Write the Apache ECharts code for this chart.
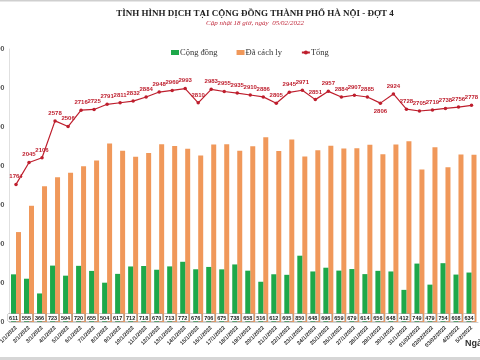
<!DOCTYPE html>
<html>
<head>
<meta charset="utf-8">
<script src="https://cdn.jsdelivr.net/npm/echarts@6/dist/echarts.min.js"></script>
<style>html,body{margin:0;padding:0;background:#fff}#c{width:480px;height:360px}</style>
</head>
<body>
<div id="c"></div>
<script>
var categories = ['1/1/2022','2/1/2022','3/1/2022','4/1/2022','5/1/2022','6/1/2022','7/1/2022','8/1/2022','9/1/2022','10/1/2022','11/1/2022','12/1/2022','13/1/2022','14/1/2022','15/1/2022','16/1/2022','17/1/2022','18/1/2022','19/1/2022','20/1/2022','21/1/2022','22/1/2022','23/1/2022','24/1/2022','25/1/2022','26/1/2022','27/1/2022','28/1/2022','29/1/2022','30/1/2022','31/1/2022','01/02/2022','02/02/2022','03/02/2022','4/2/2022','5/2/2022'];
var congDong = [611,555,366,723,594,720,655,504,617,712,718,670,713,772,676,706,675,738,658,516,612,605,850,648,696,659,679,614,656,648,412,749,479,754,608,634];
var daCachLy = [1153,1490,1740,1855,1912,1996,2070,2287,2194,2120,2166,2278,2256,2221,2134,2277,2280,2197,2252,2370,2193,2340,2121,2203,2261,2225,2228,2271,2150,2276,2316,1956,2240,1984,2148,2144];
var tong = [1764,2045,2106,2578,2506,2716,2725,2791,2811,2832,2884,2948,2969,2993,2810,2983,2955,2935,2910,2886,2805,2945,2971,2851,2957,2884,2907,2885,2806,2924,2728,2705,2719,2738,2756,2778];
var yTicks = [0,500,1000,1500,2000,2500,3000,3500];

var RED = '#be1e2d', GREEN = '#1ea84a', ORANGE = '#f0985a';
var belowIdx = [28];
var tongData = tong.map(function(v, i){
  if (belowIdx.indexOf(i) >= 0) return {value: v, label: {position: 'bottom'}};
  return v;
});

var chart = echarts.init(document.getElementById('c'));
chart.setOption({
  animation: false,
  backgroundColor: '#fff',
  title: {
    text: 'TÌNH HÌNH DỊCH TẠI CỘNG ĐỒNG THÀNH PHỐ HÀ NỘI - ĐỢT 4',
    subtext: 'Cập nhật 18 giờ, ngày  05/02/2022',
    left: 250, textAlign: 'center', top: 4, itemGap: 2,
    textStyle: {fontFamily: 'Liberation Serif', fontWeight: 'bold', fontSize: 9, color: '#222'},
    subtextStyle: {fontFamily: 'Liberation Serif', fontStyle: 'italic', fontSize: 7, color: '#c0283a'}
  },
  legend: {
    left: 166, top: 43, itemWidth: 8, itemHeight: 5, itemGap: 19,
    textStyle: {fontFamily: 'Liberation Serif', fontSize: 8.5, color: '#333', padding: [0,0,0,-4]},
    data: [{name: 'Cộng đồng', icon: 'rect'}, {name: 'Đã cách ly', icon: 'rect'}, {name: 'Tổng'}]
  },
  grid: {left: 9.5, right: 2, top: 49, bottom: 38, containLabel: false, outerBoundsMode: 'none'},
  xAxis: {
    type: 'category', data: categories,
    axisLine: {show: true, lineStyle: {color: '#d0d0d0'}},
    axisTick: {show: false},
    axisLabel: {rotate: 45, fontSize: 5.5, fontWeight: 'bold', color: '#333', interval: 0, margin: 5, fontFamily: 'Liberation Sans'}
  },
  yAxis: {
    type: 'value', min: yTicks[0], max: yTicks[yTicks.length-1], interval: 500,
    axisLine: {show: true, lineStyle: {color: '#e0e0e0'}},
    splitLine: {show: false},
    axisLabel: {fontSize: 7, fontWeight: 'bold', color: '#555', margin: 5, formatter: '{value}'}
  },
  graphic: [
    {type: 'rect', left: 0, top: 0, shape: {width: 480, height: 1.5}, style: {fill: '#cfcfcf'}},
    {type: 'rect', left: 0, top: 357, shape: {width: 480, height: 3}, style: {fill: '#d6d6d6'}},
    {type: 'text', left: 465, top: 339, style: {text: 'Ngày', font: 'bold 9px Liberation Sans', fill: '#333'}}
  ],
  series: [
    {
      name: 'Cộng đồng', type: 'bar', data: congDong, barWidth: 5, barGap: '0%',
      itemStyle: {color: GREEN},
      label: {show: true, position: 'insideBottom', distance: 1, fontSize: 5.5, fontWeight: 'bold', color: '#222',
        backgroundColor: '#fff', borderColor: '#999', borderWidth: 0.5, padding: [1,1,0,1]},
      z: 3
    },
    {
      name: 'Đã cách ly', type: 'bar', data: daCachLy, barWidth: 5,
      itemStyle: {color: ORANGE}, z: 2
    },
    {
      name: 'Tổng', type: 'line', data: tongData,
      symbol: 'circle', symbolSize: 3.5,
      lineStyle: {color: RED, width: 1.2}, itemStyle: {color: RED},
      label: {show: true, position: 'top', distance: 3, fontSize: 6, fontWeight: 'bold', color: RED},
      z: 5
    }
  ]
});
</script>
</body>
</html>
